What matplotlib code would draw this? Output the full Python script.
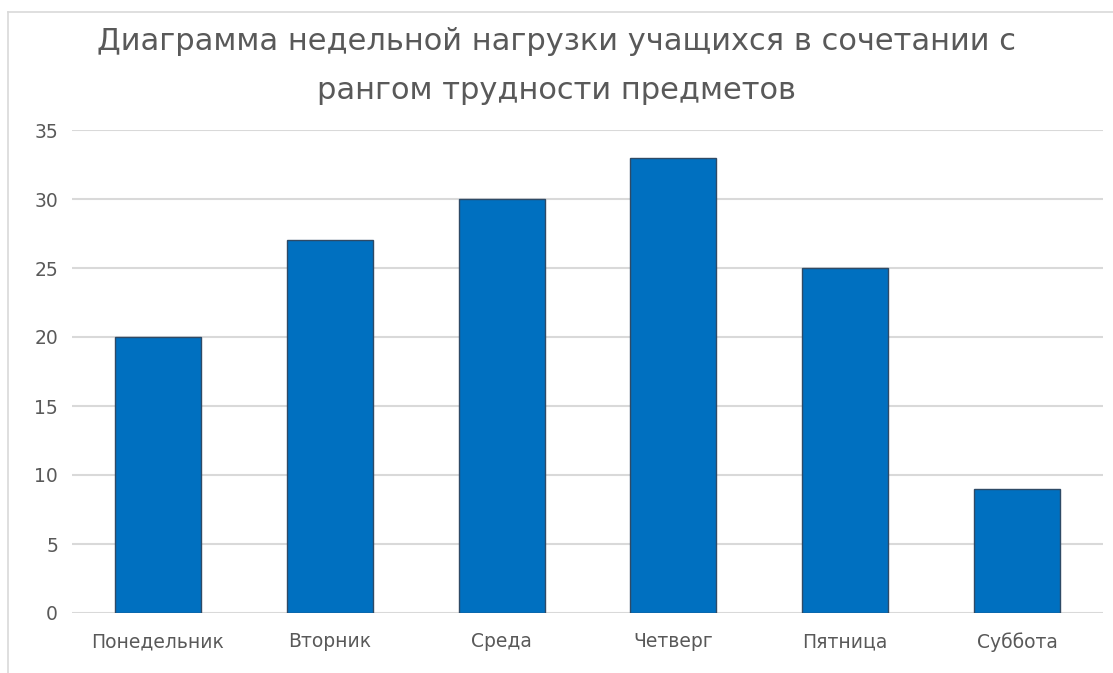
import matplotlib.pyplot as plt
from matplotlib.lines import Line2D

days = ["Понедельник", "Вторник", "Среда", "Четверг", "Пятница", "Суббота"]
load = [20, 27, 30, 33, 25, 9]
y_ticks = [0, 5, 10, 15, 20, 25, 30, 35]
title = "Диаграмма недельной нагрузки учащихся в сочетании с\nрангом трудности предметов"

text_color = "#595959"
bar_color = "#0070C0"

fig = plt.figure(figsize=(11.13, 6.73), dpi=100)
ax = fig.add_axes([72 / 1113, 60 / 673, 1031 / 1113, 483 / 673])

# bars, half of the category width like Excel
ax.bar(range(len(days)), load, width=0.5, color=bar_color,
       edgecolor="#2E4A66", linewidth=1.0, zorder=3)

ax.set_xlim(-0.5, len(days) - 0.5)
ax.set_ylim(0, 35)
ax.set_yticks(y_ticks)
ax.set_xticks(range(len(days)))
ax.set_xticklabels(days)
ax.grid(axis="y", color="#D9D9D9", linewidth=1.5, zorder=0)
ax.tick_params(axis="both", length=0, labelsize=13.5, labelcolor=text_color)
ax.tick_params(axis="y", pad=10)
ax.tick_params(axis="x", pad=14)
for s in ax.spines.values():
    s.set_visible(False)

fig.text(0.5, 1 - 27 / 673, title, ha="center", va="top", fontsize=22,
         color=text_color, linespacing=1.85)

# chart frame (top and left edge visible)
fig.add_artist(Line2D([8 / 1113, 1.0], [1 - 12 / 673, 1 - 12 / 673],
                      transform=fig.transFigure, color="#D9D9D9", lw=1.2))
fig.add_artist(Line2D([8 / 1113, 8 / 1113], [0.0, 1 - 12 / 673],
                      transform=fig.transFigure, color="#D9D9D9", lw=1.2))

fig.savefig("out.png", dpi=100)
